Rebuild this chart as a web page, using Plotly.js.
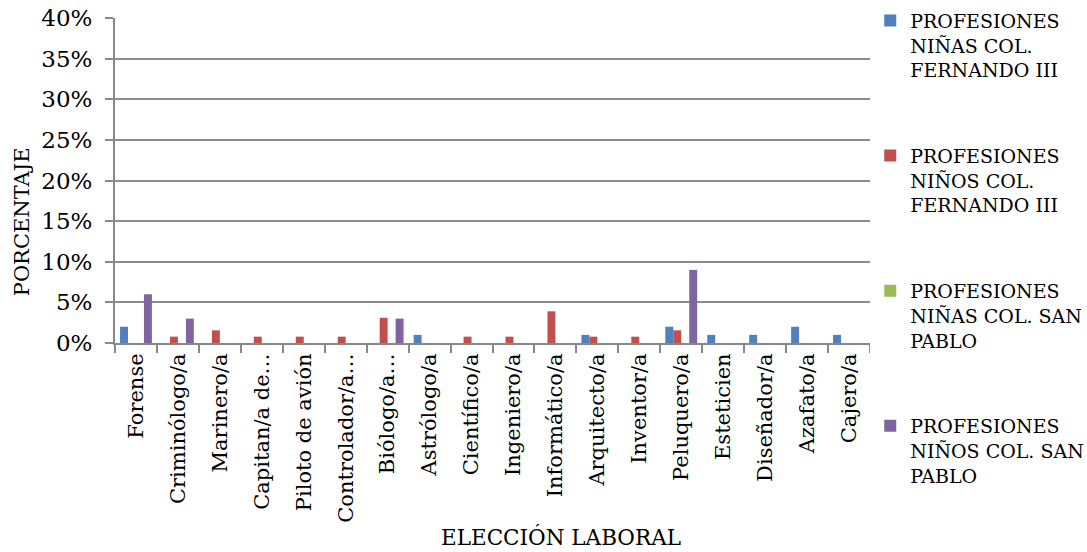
<!DOCTYPE html>
<html>
<head>
<meta charset="utf-8">
<script src="https://cdn.plot.ly/plotly-3.0.1.min.js"></script>
<style>html,body{margin:0;padding:0;background:#fff;}#chart{width:1087px;height:552px;}</style>
</head>
<body>
<div id="chart"></div>
<script>
const categories = ["Forense","Criminólogo/a","Marinero/a","Capitan/a de…","Piloto de avión","Controlador/a…","Biólogo/a…","Astrólogo/a","Científico/a","Ingeniero/a","Informático/a","Arquitecto/a","Inventor/a","Peluquero/a","Esteticien","Diseñador/a","Azafato/a","Cajero/a"];
const ninasFernando = [0.02,0,0,0,0,0,0,0.01,0,0,0,0.01,0,0.02,0.01,0.01,0.02,0.01];
const ninosFernando = [0,0.0078,0.0156,0.0078,0.0078,0.0078,0.031,0,0.0078,0.0078,0.039,0.0078,0.0078,0.0156,0,0,0,0];
const ninasSanPablo = [0,0,0,0,0,0,0,0,0,0,0,0,0,0,0,0,0,0];
const ninosSanPablo = [0.06,0.03,0,0,0,0,0.03,0,0,0,0,0,0,0.09,0,0,0,0];
const seriesNames = ["PROFESIONES<br>NIÑAS COL.<br>FERNANDO III","PROFESIONES<br>NIÑOS COL.<br>FERNANDO III","PROFESIONES<br>NIÑAS COL. SAN<br>PABLO","PROFESIONES<br>NIÑOS COL. SAN<br>PABLO"];
const colors = ["#4F81BD","#C0504D","#9BBB59","#8064A2"];
const values = [ninasFernando, ninosFernando, ninasSanPablo, ninosSanPablo];
const serif = "DejaVu Serif";

const data = values.map((v,i)=>({
  type:'bar', x:categories, y:v, name:seriesNames[i], legendgroup:'g'+i,
  marker:{color:colors[i], line:{width:0}}
}));

const layout = {
  width:1087, height:552,
  margin:{l:115, r:217, t:18, b:209},
  paper_bgcolor:'#fff', plot_bgcolor:'#fff',
  barmode:'group', bargap:0.24, bargroupgap:0,
  font:{family:serif, color:'#000', size:21},
  showlegend:true,
  legend:{xref:'container', yref:'container', x:0.8006, xanchor:'left', y:0.997, yanchor:'top', tracegroupgap:58, valign:'top', maxheight:550,
          font:{family:serif, size:19, color:'#000'}, itemwidth:30, traceorder:'grouped'},
  xaxis:{type:'category', tickangle:-90, tickfont:{family:serif, size:21}, showgrid:false, showline:true, linecolor:'#888', linewidth:2, ticks:'outside', tickson:'boundaries', ticklen:8, tickcolor:'#888', tickwidth:2, automargin:false},
  yaxis:{range:[0,0.40], dtick:0.05, tickformat:'.0%', tickfont:{family:serif, size:23}, ticklabelstandoff:8, showgrid:true, gridcolor:'#8c8c8c', gridwidth:2, showline:true, linecolor:'#888', linewidth:2, ticks:'outside', ticklen:8, tickcolor:'#888', tickwidth:2, zeroline:false, automargin:false},
  annotations:[
    {text:'PORCENTAJE', xref:'paper', yref:'paper', x:-0.123, y:0.372, xanchor:'center', yanchor:'middle', textangle:-90, showarrow:false, font:{family:serif, size:21}},
    {text:'ELECCIÓN LABORAL', xref:'paper', yref:'paper', x:0.591, y:-0.598, xanchor:'center', yanchor:'middle', showarrow:false, font:{family:serif, size:21.5}}
  ]
};
Plotly.newPlot('chart', data, layout, {displayModeBar:false, staticPlot:true});
</script>
</body>
</html>
